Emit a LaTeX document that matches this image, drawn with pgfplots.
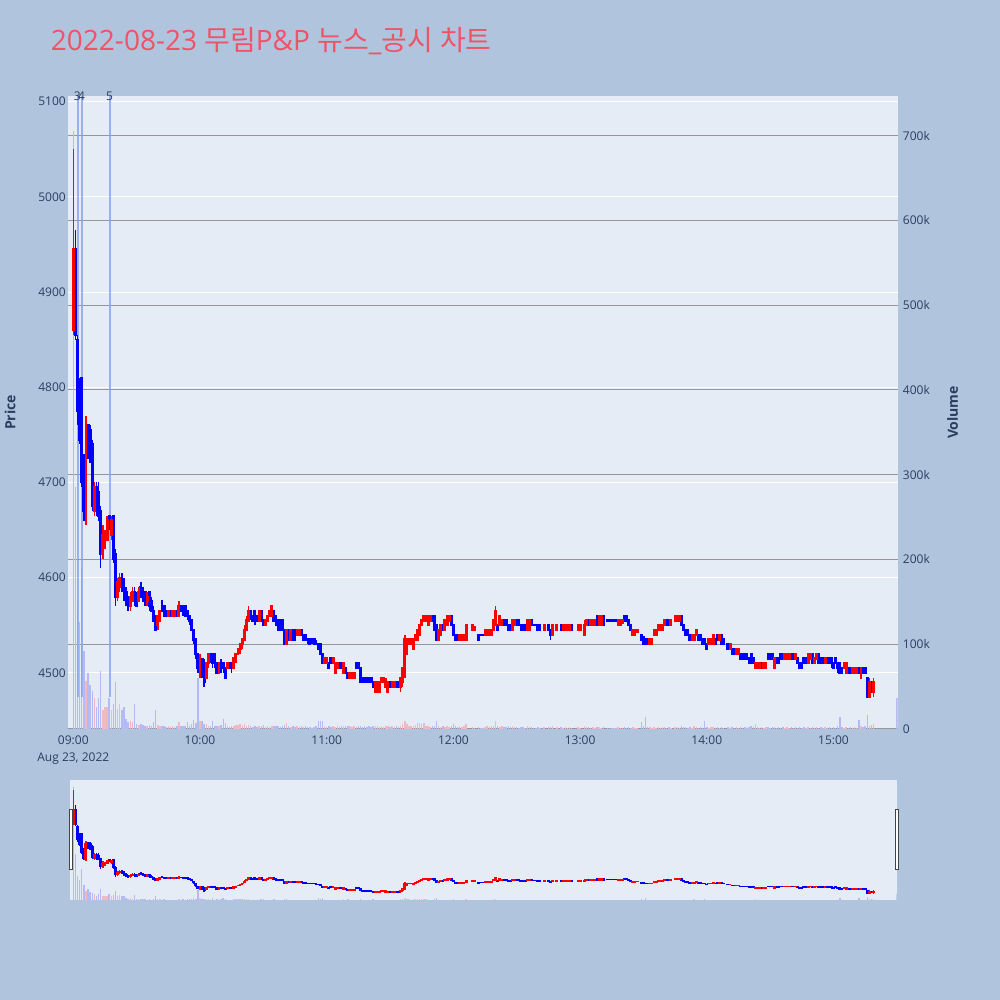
\documentclass[border=0pt]{standalone}
\usepackage{pgfplots}
\pgfplotsset{compat=1.18}
\usepackage{pgfplotstable}
\usepackage{fontspec}
\setmainfont{Open Sans}
\newfontfamily\kr[Scale=1.0]{Noto Sans CJK KR}
\usetikzlibrary{calc}
\definecolor{bgc}{RGB}{176,196,222}
\definecolor{plotbg}{RGB}{229,236,246}
\definecolor{tickc}{RGB}{42,63,95}
\definecolor{titlec}{RGB}{239,83,103}
\definecolor{cred}{RGB}{255,0,0}
\definecolor{cblue}{RGB}{0,0,255}
\definecolor{vblue}{RGB}{180,186,245}
\definecolor{vred}{RGB}{242,184,194}
\definecolor{newsc}{RGB}{135,160,238}
\definecolor{vgrid}{RGB}{148,150,156}
\definecolor{handlec}{RGB}{68,68,68}

% m = minutes after 09:00; o h l c = price; v = volume (thousands)
% d: 0 down candle / blue volume, 1 up candle / red volume, 2 up candle / blue volume, 3 volume only
\pgfplotstableread{
m o h l c v d
0 4860 5050 4855 4945 705 2
1 4945 4965 4850 4855 285 0
2 4850 4855 4760 4775 151 0
3 4805 4810 4740 4745 126 0
4 4810 4810 4695 4700 190 0
5 4720 4730 4660 4670 92 0
6 4665 4770 4655 4755 57 1
7 4760 4760 4725 4730 66 0
8 4755 4760 4720 4725 52 0
9 4740 4745 4670 4675 45 0
10 4670 4700 4665 4695 36 1
11 4695 4700 4665 4670 26 0
12 4690 4700 4660 4665 36 0
13 4670 4675 4610 4625 68 0
14 4625 4655 4620 4645 22 1
15 4635 4650 4630 4645 26 1
16 4640 4665 4640 4660 26 1
17 4665 4665 4650 4655 36 0
18 4645 4665 4640 4660 22 1
19 4665 4665 4615 4620 29 0
20 4625 4630 4570 4580 55 0
21 4580 4600 4575 4595 24 1
22 4590 4605 4585 4600 29 1
23 4600 4605 4585 4590 22 0
24 4595 4600 4575 4580 26 0
25 4585 4590 4570 4575 12 0
26 4580 4580 4565 4570 8 0
27 4570 4585 4565 4580 10 1
28 4575 4590 4575 4585 8 1
29 4585 4590 4570 4575 30 0
30 4580 4585 4570 4570 6 0
31 4575 4590 4575 4585 5 1
32 4590 4595 4580 4580 6 0
33 4585 4590 4575 4575 5 0
34 4585 4585 4570 4575 4 0
35 4575 4585 4570 4580 3 1
36 4585 4585 4565 4570 5 0
37 4575 4580 4565 4565 3 0
38 4565 4570 4555 4555 8 0
39 4560 4560 4545 4545 22 0
40 4550 4560 4545 4560 5 1
41 4555 4565 4555 4565 4 1
42 4575 4575 4565 4565 3 0
43 4570 4570 4560 4560 4 0
44 4565 4565 4560 4560 2 0
45 4560 4565 4560 4565 3 1
46 4565 4565 4560 4560 2 0
47 4560 4565 4560 4565 3 1
48 4560 4565 4560 4565 2 1
49 4565 4565 4560 4560 3 0
50 4560 4575 4560 4570 8 1
51 4570 4570 4565 4565 3 0
52 4570 4570 4560 4565 4 0
53 4570 4570 4560 4560 3 0
54 4565 4565 4555 4560 8 0
55 4560 4560 4550 4555 4 0
56 4555 4555 4545 4545 6 0
57 4545 4545 4530 4535 11 0
58 4535 4535 4515 4520 7 0
59 4520 4520 4500 4505 60 0
60 4500 4520 4495 4515 10 1
61 4515 4515 4495 4500 9 0
62 4510 4515 4485 4490 6 0
63 4495 4510 4495 4510 6 1
64 4510 4520 4505 4520 4 1
65 4520 4520 4510 4515 3 0
66 4520 4520 4505 4510 10 0
67 4520 4520 4505 4510 3 0
68 4510 4510 4500 4500 4 0
69 4500 4510 4500 4510 3 1
70 4510 4515 4500 4505 5 0
71 4510 4510 4500 4505 12 0
72 4505 4505 4495 4495 7 0
73 4505 4510 4505 4510 3 1
74 4510 4510 4505 4505 2 0
75 4510 4510 4500 4505 3 0
76 4505 4515 4505 4515 4 1
77 4515 4520 4510 4520 5 1
78 4520 4525 4520 4525 5 1
79 4525 4530 4520 4530 6 1
80 4530 4535 4525 4535 5 1
81 4535 4550 4535 4545 6 1
82 4545 4560 4545 4555 4 1
83 4555 4570 4555 4565 5 1
84 4565 4565 4555 4560 3 0
85 4560 4560 4555 4555 2 0
86 4565 4565 4550 4555 3 0
87 4560 4560 4555 4555 2 0
88 4555 4565 4555 4565 3 1
89 4565 4565 4555 4555 4 0
90 4555 4555 4550 4550 5 0
91 4550 4555 4550 4555 2 1
92 4555 4560 4555 4560 3 1
93 4560 4565 4560 4565 2 1
94 4560 4570 4560 4570 3 1
95 4565 4565 4555 4555 4 0
96 4560 4560 4550 4550 3 0
97 4555 4555 4545 4545 3 0
98 4555 4555 4545 4545 2 0
99 4555 4555 4545 4545 3 0
100 4545 4545 4530 4530 5 0
101 4530 4545 4530 4545 7 1
102 4545 4545 4535 4535 3 0
103 4535 4545 4535 4545 2 1
104 4545 4545 4535 4535 3 0
105 4545 4545 4535 4535 2 0
106 4540 4545 4540 4545 3 1
107 4540 4545 4540 4545 2 1
108 4545 4545 4540 4540 3 0
109 4540 4540 4535 4535 2 0
110 4540 4540 4535 4535 3 0
111 4535 4535 4530 4535 2 0
112 4535 4535 4530 4530 2 0
113 4535 4535 4530 4535 1 0
114 4535 4535 4530 4530 2 0
115 4530 4535 4530 4530 3 0
116 4530 4530 4525 4525 10 0
117 4530 4530 4520 4520 9 0
118 4520 4520 4510 4510 10 0
119 4510 4515 4510 4515 3 1
120 4510 4515 4510 4515 2 1
121 4510 4510 4505 4505 3 0
122 4515 4515 4510 4510 2 0
123 4510 4515 4510 4515 3 1
124 4500 4510 4500 4510 2 1
125 4505 4510 4505 4510 3 1
126 4510 4510 4505 4505 2 0
127 4510 4510 4505 4505 3 0
128 4500 4510 4500 4510 4 1
129 4505 4505 4500 4500 3 0
130 4500 4500 4495 4495 4 0
131 4495 4500 4495 4500 3 1
132 4495 4500 4495 4500 2 1
133 4495 4500 4495 4500 3 1
134 4510 4510 4505 4505 2 0
135 4510 4510 4505 4505 3 0
136 4505 4505 4490 4490 4 0
137 4495 4495 4490 4490 2 0
138 4495 4495 4490 4490 3 0
139 4495 4495 4490 4490 2 0
140 4495 4495 4490 4490 3 0
141 4495 4495 4490 4490 2 0
142 4490 4490 4485 4485 4 0
143 4480 4490 4480 4490 3 1
144 4480 4490 4480 4490 3 1
145 4480 4490 4480 4490 2 1
146 4490 4495 4490 4495 3 1
147 4490 4495 4490 4495 2 1
148 4485 4495 4485 4490 3 1
149 4480 4490 4480 4490 3 1
150 4490 4490 4485 4485 2 0
151 4485 4490 4485 4490 3 1
152 4485 4490 4485 4490 2 1
153 4490 4490 4485 4485 3 0
154 4490 4490 4485 4485 2 0
155 4485 4495 4480 4495 4 1
156 4490 4505 4485 4505 6 1
157 4500 4540 4495 4535 10 1
158 4520 4535 4520 4535 6 1
159 4530 4535 4530 4535 4 1
160 4530 4535 4530 4535 3 1
161 4525 4535 4525 4535 4 1
162 4535 4540 4535 4540 5 1
163 4535 4545 4535 4545 7 1
164 4540 4550 4540 4550 7 1
165 4550 4555 4550 4555 6 1
166 4555 4560 4555 4560 7 1
167 4555 4560 4555 4560 4 1
168 4550 4560 4550 4560 3 1
169 4555 4560 4555 4560 2 1
170 4560 4560 4555 4555 3 0
171 4560 4560 4545 4545 4 0
172 4550 4550 4535 4535 10 0
173 4535 4545 4535 4545 3 1
174 4540 4550 4540 4550 2 1
175 4550 4550 4545 4545 3 0
176 4545 4555 4545 4555 2 1
177 4550 4560 4550 4560 3 1
178 4555 4560 4555 4560 2 1
179 4560 4560 4550 4550 3 0
180 4550 4550 4540 4540 6 0
181 4540 4540 4535 4535 3 0
182 4540 4540 4535 4535 2 0
183 4535 4540 4535 4540 3 1
184 4535 4540 4535 4540 2 1
185 4535 4540 4535 4540 3 1
186 4535 4550 4535 4550 6 1
189 4545 4550 4545 4550 2 1
190 4545 4548 4545 4548 1 1
192 4540 4540 4535 4535 2 0
193 4540 4540 4540 4540 1 0
194 4540 4540 4540 4540 1 0
195 4540 4545 4540 4545 2 1
196 4540 4545 4540 4545 3 1
197 4540 4545 4540 4545 2 1
198 4540 4545 4540 4545 3 1
199 4545 4555 4545 4555 4 1
200 4550 4570 4550 4565 9 1
201 4550 4550 4545 4545 3 0
202 4550 4560 4550 4560 2 1
203 4550 4555 4550 4555 3 1
204 4555 4555 4550 4550 2 0
205 4555 4555 4550 4550 2 0
206 4550 4550 4545 4545 3 0
207 4550 4550 4545 4545 2 0
208 4545 4555 4545 4555 3 1
209 4550 4555 4550 4555 2 1
210 4555 4555 4550 4550 2 0
211 4555 4555 4550 4550 1 0
212 4550 4550 4545 4545 2 0
213 4550 4550 4545 4545 2 0
214 4550 4550 4545 4545 1 0
215 4545 4555 4545 4555 3 1
216 4545 4555 4545 4555 2 1
217 4555 4555 4550 4550 2 0
218 4550 4550 4550 4550 1 0
219 4550 4550 4550 4550 1 0
220 4550 4550 4545 4545 2 0
221 4550 4550 4545 4545 1 0
223 4545 4550 4545 4550 2 1
225 4550 4550 4545 4545 2 0
226 4545 4545 4535 4540 2 0
227 4540 4550 4540 4550 3 1
229 4545 4550 4545 4550 2 1
231 4550 4550 4545 4545 2 0
232 4545 4550 4545 4550 1 1
233 4545 4550 4545 4550 2 1
234 4545 4550 4545 4550 1 1
235 4545 4550 4545 4550 2 1
236 4550 4550 4545 4545 1 0
239 4545 4550 4545 4550 2 1
240 4545 4550 4545 4550 1 1
242 4540 4555 4540 4550 3 1
243 4550 4555 4550 4555 2 1
244 4555 4555 4550 4550 2 0
245 4550 4555 4550 4555 1 1
246 4550 4555 4550 4555 2 1
247 4550 4555 4550 4555 1 1
248 4560 4560 4550 4550 2 0
249 4550 4560 4550 4560 2 1
250 4550 4560 4550 4560 1 1
251 4560 4560 4550 4550 2 0
253 4555 4555 4555 4555 1 0
254 4555 4555 4555 4555 1 0
255 4555 4555 4555 4555 1 0
256 4555 4555 4555 4555 1 0
257 4555 4555 4555 4555 1 0
258 4550 4555 4550 4555 2 1
259 4550 4555 4550 4555 1 1
260 4552 4555 4552 4555 1 1
261 4560 4560 4555 4555 2 0
262 4560 4560 4555 4555 1 0
263 4555 4555 4550 4550 2 0
264 4550 4550 4545 4545 1 0
265 4540 4545 4540 4545 2 1
266 4540 4545 4540 4545 1 1
267 4543 4545 4543 4545 1 1
269 4540 4540 4535 4535 8 0
270 4538 4538 4530 4530 3 0
271 4535 4535 4530 4530 14 0
272 4535 4535 4530 4530 2 0
273 4530 4535 4530 4535 2 1
274 4530 4535 4530 4535 1 1
275 4540 4545 4540 4545 2 1
276 4540 4545 4540 4545 1 1
277 4545 4550 4545 4550 2 1
278 4545 4550 4545 4550 1 1
279 4545 4550 4545 4550 2 1
280 4550 4555 4550 4555 2 1
281 4555 4555 4550 4550 1 0
282 4555 4555 4550 4550 2 0
283 4550 4555 4550 4555 1 1
285 4555 4560 4555 4560 2 1
286 4555 4560 4555 4560 2 1
287 4555 4560 4555 4560 1 1
288 4560 4560 4550 4550 3 0
289 4550 4550 4545 4545 2 0
290 4545 4545 4540 4540 2 0
291 4545 4545 4540 4540 1 0
292 4540 4540 4535 4535 2 0
293 4535 4540 4535 4540 1 1
294 4535 4540 4535 4540 4 1
295 4540 4545 4540 4545 2 1
296 4540 4540 4535 4535 1 0
297 4540 4540 4535 4535 2 0
298 4535 4535 4530 4530 1 0
299 4535 4535 4530 4530 9 0
300 4530 4530 4525 4525 2 0
301 4530 4535 4530 4535 1 1
302 4530 4535 4530 4535 2 1
303 4530 4540 4530 4540 2 1
304 4535 4535 4530 4530 1 0
305 4540 4540 4535 4535 2 0
306 4535 4540 4535 4540 1 1
307 4540 4540 4530 4530 2 0
308 4535 4535 4530 4530 1 0
310 4530 4530 4525 4525 2 0
311 4525 4530 4525 4530 1 1
312 4525 4525 4520 4520 2 0
313 4525 4525 4520 4520 1 0
314 4520 4525 4520 4525 2 1
315 4520 4525 4520 4525 1 1
316 4520 4520 4515 4515 2 0
317 4520 4520 4515 4515 1 0
318 4520 4520 4515 4515 2 0
319 4520 4520 4515 4515 1 0
320 4515 4515 4510 4510 2 0
321 4520 4520 4510 4510 3 0
322 4515 4515 4510 4510 2 0
323 4505 4510 4505 4510 6 1
324 4505 4510 4505 4510 2 1
325 4505 4510 4505 4510 1 1
326 4510 4510 4505 4505 2 0
327 4505 4510 4505 4510 1 1
328 4505 4510 4505 4510 2 1
329 4520 4520 4515 4515 2 0
330 4520 4520 4515 4515 1 0
331 4520 4520 4515 4515 2 0
332 4505 4515 4505 4515 2 1
333 4515 4515 4510 4510 1 0
334 4515 4515 4510 4510 2 0
335 4520 4520 4515 4515 1 0
336 4520 4520 4515 4515 2 0
337 4515 4520 4515 4520 1 1
338 4515 4520 4515 4520 2 1
339 4515 4520 4515 4520 1 1
340 4520 4520 4515 4515 2 0
341 4520 4520 4515 4515 1 0
342 4515 4520 4515 4520 2 1
343 4515 4515 4510 4510 1 0
344 4510 4510 4505 4505 2 0
345 4510 4510 4505 4505 1 0
346 4515 4515 4510 4510 2 0
347 4515 4515 4510 4510 1 0
348 4510 4520 4510 4520 2 1
349 4515 4520 4515 4520 1 1
350 4520 4520 4510 4510 2 0
351 4510 4515 4510 4515 1 1
352 4515 4520 4515 4520 2 1
353 4520 4520 4510 4510 1 0
354 4515 4515 4510 4510 2 0
355 4515 4515 4510 4510 1 0
356 4510 4515 4510 4515 2 1
357 4515 4515 4510 4510 1 0
358 4515 4515 4510 4510 2 0
359 4515 4515 4505 4510 1 0
360 4510 4510 4505 4505 2 0
361 4515 4515 4510 4510 1 0
362 4510 4510 4500 4505 3 0
363 4510 4510 4500 4500 14 0
364 4505 4505 4500 4500 2 0
365 4505 4510 4505 4510 1 1
366 4500 4510 4500 4510 2 1
367 4505 4505 4500 4500 1 0
368 4505 4505 4500 4500 2 0
369 4500 4505 4500 4505 1 1
370 4500 4505 4500 4505 2 1
371 4500 4505 4500 4505 1 1
372 4505 4505 4500 4500 11 0
373 4495 4505 4495 4505 3 1
374 4505 4505 4500 4500 2 0
375 4505 4505 4500 4500 3 0
376 4495 4495 4475 4475 16 0
377 4475 4495 4475 4490 4 1
378 4490 4490 4480 4480 5 0
379 4480 4495 4475 4490 6 1
390 4485 4485 4485 4485 37 3
}\data

\newcommand{\volplots}{%
\addplot[ycomb, no markers, line width=1.1pt, vblue, restrict expr to domain={abs(\thisrow{d}-1)}{0.5:3}] table[x=m, y=v]{\data};
\addplot[ycomb, no markers, line width=1.1pt, vred, restrict expr to domain={\thisrow{d}}{0.5:1.5}] table[x=m, y=v]{\data};
}
\newcommand{\candleset}[3]{%
\addplot[draw=none, mark=none, restrict expr to domain={\thisrow{d}}{#2},
  error bars/.cd, y dir=both, y explicit, error mark=none,
  error bar style={draw=#1, line width=1.1pt, solid}]
  table[x=m, y expr={(\thisrow{h}+\thisrow{l})/2}, y error expr={(\thisrow{h}-\thisrow{l})/2}]{\data};
\addplot[draw=none, mark=none, restrict expr to domain={\thisrow{d}}{#2},
  error bars/.cd, y dir=both, y explicit, error mark=none,
  error bar style={draw=#1, line width=#3, solid}]
  table[x=m, y expr={(\thisrow{o}+\thisrow{c})/2}, y error expr={abs(\thisrow{c}-\thisrow{o})/2+1.1}]{\data};
}
\newcommand{\candleplots}{%
\candleset{cblue}{-0.5:0.5}{2.2pt}%
\candleset{cred}{0.5:2.5}{2.2pt}%
}

\pgfplotsset{
  base/.style={scale only axis, anchor=south west,
    axis line style={draw=none}, tick style={draw=none},
    /pgf/number format/assume math mode=true,
    /pgf/number format/1000 sep={},
    ticklabel style={font=\fontsize{9}{12.75}\selectfont, text=tickc},
    clip mode=individual},
  mainpos/.style={base, at={(51.225pt,203.25pt)}, width=622.05pt, height=474.75pt, xmin=-2.37, xmax=390.4},
  minipos/.style={base, at={(52.5pt,75pt)}, width=620.0pt, height=90pt, xmin=-1.56, xmax=389.93, xtick=\empty, ytick=\empty},
  pricerange/.style={ymin=4441.0, ymax=5105.9},
  volrange/.style={ymin=0, ymax=746.9},
}

\begin{document}
\begin{tikzpicture}[x=1pt,y=1pt]
\fill[bgc] (0,0) rectangle (750,750);

\node[anchor=base west, inner sep=0pt, text=titlec, font=\fontsize{21}{25}\selectfont] at (38.0,712.0)
  {2022-08-23 {\kr 무림}P\&P {\kr 뉴스}\_{\kr 공시} {\kr 차트}};

% price axis: background, grid, labels
\begin{axis}[mainpos, pricerange,
  axis background/.style={fill=plotbg},
  ytick={4500,4600,...,5100},
  ymajorgrids, major grid style={white, line width=0.75pt},
  xtick={0,60,120,180,240,300,360},
  xticklabels={{09:00\\Aug 23, 2022},10:00,11:00,12:00,13:00,14:00,15:00},
  xticklabel style={anchor=north, inner sep=0pt, yshift=-5pt, align=center},
  yticklabel style={anchor=east, inner sep=0pt, xshift=-1.7pt},
  ylabel={Price},
  ylabel style={at={([xshift=-43.7pt]axis description cs:0,0.5)}, anchor=center, rotate=0,
    font=\bfseries\fontsize{10.5}{12}\selectfont, text=tickc}]
\addplot[draw=none, forget plot] coordinates {(0,4600)};
\end{axis}

% volume axis
\begin{axis}[mainpos, volrange,
  xtick=\empty,
  ytick={0,100,...,700},
  yticklabels={0,100k,200k,300k,400k,500k,600k,700k},
  yticklabel pos=right,
  ymajorgrids, major grid style={vgrid, line width=0.75pt},
  yticklabel style={anchor=west, inner sep=0pt, xshift=3.7pt},
  ylabel={Volume},
  ylabel style={at={([xshift=41.1pt]axis description cs:1,0.5)}, anchor=center, rotate=0,
    font=\bfseries\fontsize{10.5}{12}\selectfont, text=tickc}]
\volplots
\end{axis}

% candles and news markers
\begin{axis}[mainpos, pricerange, xtick=\empty, ytick=\empty]
\addplot[draw=newsc, line width=1.4pt, opacity=0.8] coordinates {(2.2,4475) (2.2,5105.9)};
\addplot[draw=newsc, line width=1.4pt, opacity=0.8] coordinates {(4.1,4475) (4.1,5105.9)};
\addplot[draw=newsc, line width=1.4pt, opacity=0.8] coordinates {(17.2,4475) (17.2,5105.9)};
\candleplots
\node[inner sep=0pt, text=tickc, font=\fontsize{9}{10}\selectfont, anchor=center] at (axis cs:1.9,5105.6) {3};
\node[inner sep=0pt, text=tickc, font=\fontsize{9}{10}\selectfont, anchor=center] at (axis cs:3.9,5105.6) {4};
\node[inner sep=0pt, text=tickc, font=\fontsize{9}{10}\selectfont, anchor=center] at (axis cs:17.2,5105.6) {5};
\end{axis}

% range slider
\begin{axis}[minipos, volrange, axis background/.style={fill=plotbg}]
\volplots
\end{axis}
\begin{axis}[minipos, pricerange]
\candleplots
\end{axis}
\draw[handlec, fill=white, line width=0.75pt] (52.2,97.5) rectangle (54.7,142.5);
\draw[handlec, fill=white, line width=0.75pt] (671.5,97.5) rectangle (674.0,142.5);

\pgfresetboundingbox
\useasboundingbox (0,0) rectangle (750,750);
\end{tikzpicture}
\end{document}
